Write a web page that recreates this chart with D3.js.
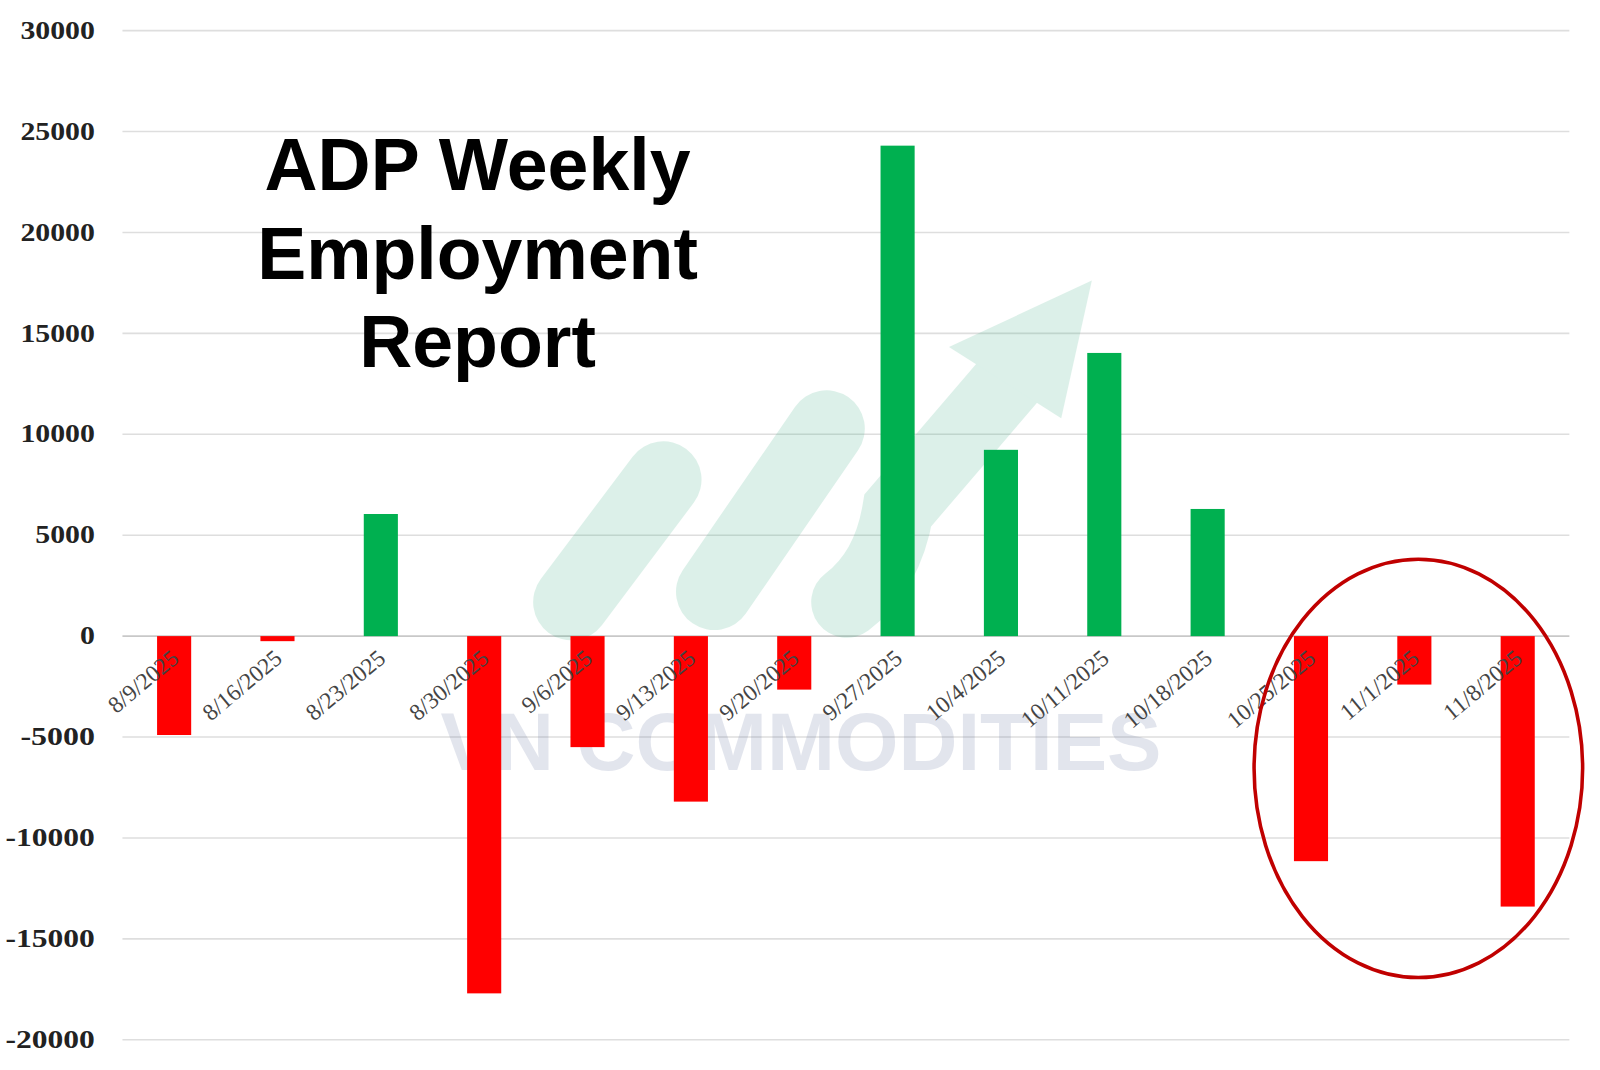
<!DOCTYPE html>
<html><head><meta charset="utf-8">
<script src="https://cdn.jsdelivr.net/npm/d3@7"></script>
<style>body{margin:0;background:#fff}</style></head>
<body><svg id="c" width="1600" height="1070"></svg>
<script>
const categories = ["8/9/2025","8/16/2025","8/23/2025","8/30/2025","9/6/2025","9/13/2025","9/20/2025","9/27/2025","10/4/2025","10/11/2025","10/18/2025","10/25/2025","11/1/2025","11/8/2025"];
const values = [-4900,-250,6050,-17700,-5500,-8200,-2650,24300,9230,14030,6300,-11150,-2400,-13400];
const yTicks = [-20000,-15000,-10000,-5000,0,5000,10000,15000,20000,25000,30000];
const titleLines = ["ADP Weekly","Employment","Report"];

const svg = d3.select("#c").append("g").attr("transform","scale(1.0204)");
const x = d3.scaleBand().domain(categories).range([120,1538]).paddingInner(0.67).paddingOuter(0.335);
const y = d3.scaleLinear().domain([-20000,30000]).range([1019,30]);

svg.append("g").selectAll("line").data(yTicks).join("line")
  .attr("x1",120).attr("x2",1538).attr("y1",d=>y(d)).attr("y2",d=>y(d))
  .attr("stroke",d=>d===0?"#c8c8c8":"#dedede").attr("stroke-width",1.5);
svg.append("g").selectAll("text").data(yTicks).join("text")
  .attr("x",93).attr("y",d=>y(d)+8).attr("text-anchor","end")
  .attr("font-family","Liberation Serif").attr("font-weight","bold").attr("font-size",24).attr("fill","#222")
  .attr("textLength",d=>String(d).length*14.6).attr("lengthAdjust","spacingAndGlyphs")
  .text(d=>d);

// watermark logo
const wm = svg.append("g").attr("opacity",0.16).attr("stroke-linecap","round").attr("fill","none");
wm.append("line").attr("x1",560).attr("y1",590).attr("x2",650).attr("y2",470).attr("stroke","#2aa87a").attr("stroke-width",75);
wm.append("line").attr("x1",700).attr("y1",580).attr("x2",810).attr("y2",420).attr("stroke","#2aa87a").attr("stroke-width",75);
wm.append("path").attr("d","M830,590 Q870,560 880,500 L1000,360").attr("stroke","#2aa87a").attr("stroke-width",70);
wm.append("path").attr("d","M930,340 L1070,275 L1040,410 Z").attr("fill","#2aa87a").attr("stroke","none");
svg.append("text").attr("x",785).attr("y",755).attr("text-anchor","middle").attr("opacity",0.17)
  .attr("font-family","Liberation Sans").attr("font-weight","bold").attr("font-size",80).attr("fill","#5a6a9a").text("VN COMMODITIES");

svg.append("g").selectAll("rect").data(values).join("rect")
  .attr("x",(d,i)=>x(categories[i])).attr("width",x.bandwidth())
  .attr("y",d=>y(Math.max(0,d))).attr("height",d=>Math.abs(y(d)-y(0)))
  .attr("fill",d=>d>=0?"#00b050":"#ff0000");

svg.append("g").selectAll("text").data(categories).join("text")
  .attr("transform",d=>`translate(${x(d)+x.bandwidth()/2+6},${y(0)+24}) rotate(-40)`)
  .attr("text-anchor","end").attr("font-family","Liberation Serif").attr("font-size",23).attr("fill","#444")
  .text(d=>d);

svg.append("g").selectAll("text").data(titleLines).join("text")
  .attr("x",468).attr("y",(d,i)=>186+i*87).attr("text-anchor","middle")
  .attr("font-family","Liberation Sans").attr("font-weight","bold").attr("font-size",72).attr("fill","#000")
  .text(d=>d);

svg.append("ellipse").attr("cx",1390).attr("cy",753).attr("rx",161).attr("ry",205)
  .attr("fill","none").attr("stroke","#c00000").attr("stroke-width",3.5);
</script></body></html>
